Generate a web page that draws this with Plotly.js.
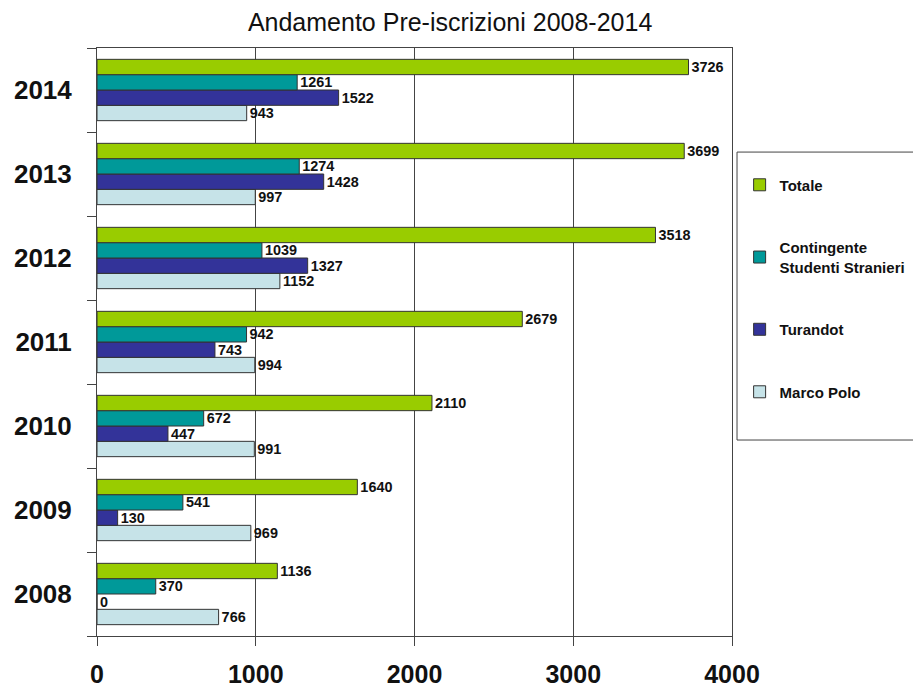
<!DOCTYPE html>
<html>
<head>
<meta charset="utf-8">
<script src="https://cdn.plot.ly/plotly-3.0.1.min.js"></script>
<style>html,body{margin:0;padding:0;background:#fff;}#chart{width:913px;height:688px;}</style>
</head>
<body>
<div id="chart"></div>
<script>
var years = ['2008', '2009', '2010', '2011', '2012', '2013', '2014'];
var totale = [1136, 1640, 2110, 2679, 3518, 3699, 3726];
var contingente = [370, 541, 672, 942, 1039, 1274, 1261];
var turandot = [0, 130, 447, 743, 1327, 1428, 1522];
var marcoPolo = [766, 969, 991, 994, 1152, 997, 943];
var xTicks = [0, 1000, 2000, 3000, 4000];

var series = [
  {name: 'Marco Polo', values: marcoPolo, color: '#C6E3E8', rank: 4},
  {name: 'Turandot', values: turandot, color: '#333399', rank: 3},
  {name: 'Contingente<br>Studenti Stranieri', values: contingente, color: '#009999', rank: 2},
  {name: 'Totale', values: totale, color: '#99CC00', rank: 1}
];

var traces = series.map(function (s, i) {
  return {
    type: 'bar',
    orientation: 'h',
    y: years,
    x: s.values,
    name: s.name,
    legendgroup: 'g' + s.rank,
    legendrank: s.rank,
    marker: {color: s.color, line: {color: '#333333', width: 1}},
    text: s.values.map(String),
    textposition: 'outside',
    cliponaxis: false,
    textfont: {family: 'Liberation Sans, Arial, sans-serif', size: 16, color: '#111', weight: 'bold'},
    hoverinfo: 'x+name'
  };
});

var layout = {
  width: 913,
  height: 688,
  margin: {l: 97, r: 181, t: 48, b: 52, autoexpand: false},
  paper_bgcolor: '#fff',
  plot_bgcolor: '#fff',
  barmode: 'group',
  bargap: 0.27,
  bargroupgap: 0,
  font: {family: 'Liberation Sans, Arial, sans-serif', color: '#111'},
  title: {
    text: 'Andamento Pre-iscrizioni 2008-2014',
    font: {size: 25, color: '#111'},
    x: 0.493, xanchor: 'center', y: 0.968, yanchor: 'middle'
  },
  xaxis: {
    range: [0, 4000],
    tickvals: xTicks,
    ticktext: xTicks.map(String),
    showgrid: true,
    gridcolor: '#444',
    gridwidth: 1,
    zeroline: false,
    showline: true,
    linecolor: '#444',
    linewidth: 1,
    mirror: true,
    ticks: 'outside',
    ticklen: 9,
    tickcolor: '#444',
    ticklabelstandoff: 7,
    tickfont: {size: 25, color: '#111', weight: 'bold'},
    fixedrange: true
  },
  yaxis: {
    type: 'category',
    categoryorder: 'array',
    categoryarray: years,
    tickson: 'boundaries',
    showgrid: false,
    showline: true,
    linecolor: '#444',
    linewidth: 1,
    mirror: true,
    ticks: 'outside',
    ticklen: 9,
    tickcolor: '#444',
    ticklabelstandoff: 19,
    tickfont: {size: 26, color: '#111', weight: 'bold'},
    fixedrange: true
  },
  shapes: [{
    type: 'rect', xref: 'paper', yref: 'paper',
    x0: 1.0079, x1: 1.35, y0: 0.3333, y1: 0.823,
    line: {color: '#444', width: 1}, fillcolor: 'rgba(0,0,0,0)'
  }],
  legend: {
    x: 1.012, xanchor: 'left',
    y: 0.795, yanchor: 'top',
    traceorder: 'grouped',
    tracegroupgap: 40,
    borderwidth: 0,
    bgcolor: 'rgba(0,0,0,0)',
    font: {size: 15, color: '#111', weight: 'bold'},
    itemwidth: 30
  },
  showlegend: true
};

Plotly.newPlot('chart', traces, layout, {displayModeBar: false, staticPlot: true});
</script>
</body>
</html>
